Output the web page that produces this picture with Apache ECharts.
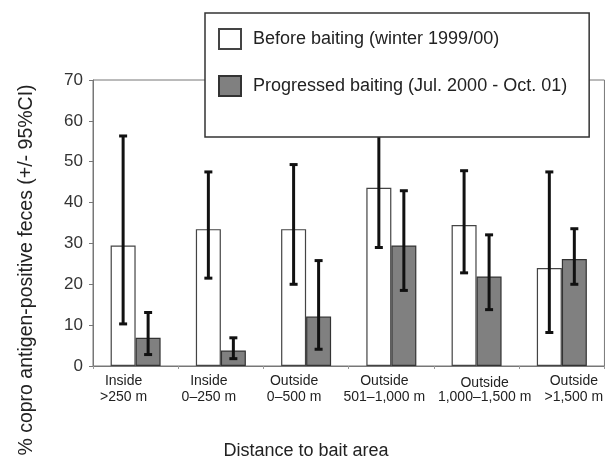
<!DOCTYPE html>
<html>
<head>
<meta charset="utf-8">
<script src="https://cdn.jsdelivr.net/npm/echarts@6/dist/echarts.min.js"></script>
<style>
  html, body { margin: 0; padding: 0; background: #fff; }
  #chart { width: 606px; height: 458px; }
</style>
</head>
<body>
<div id="chart"></div>
<script>
var categories = ['Inside\n>250 m', 'Inside\n0\u2013250 m', 'Outside\n0\u2013500 m',
                  'Outside\n501\u20131,000 m', 'Outside\n1,000\u20131,500 m', 'Outside\n>1,500 m'];
var beforeVals = [29.5, 33.5, 33.5, 43.6, 34.5, 24.0];
var beforeLow  = [10.3, 21.5, 20.0, 29.0, 22.8, 8.2];
var beforeHigh = [56.3, 47.5, 49.3, 60.0, 47.8, 47.5];
var afterVals  = [6.9, 3.8, 12.1, 29.5, 21.9, 26.2];
var afterLow   = [2.8, 1.8, 4.1, 18.5, 13.8, 20.0];
var afterHigh  = [13.1, 6.9, 25.8, 42.9, 32.1, 33.6];
var yTicks = [0, 10, 20, 30, 40, 50, 60, 70];
// label styles in the original are a bit off-centre
var labelStyle = ['l12', 'l12', 'l12', 'l7', 'r8', 'r12'];

var font = 'Liberation Sans, Arial, sans-serif';
var barW = 25;

function errData(low, high) {
  var out = [];
  for (var i = 0; i < low.length; i++) {
    out.push([i, low[i], high[i]]);
  }
  return out;
}

function errRender(offset) {
  return function (params, api) {
    var x = api.coord([api.value(0), 0])[0] + offset;
    var yLo = api.coord([api.value(0), api.value(1)])[1];
    var yHi = api.coord([api.value(0), api.value(2)])[1];
    var st = { stroke: '#111', lineWidth: 3 };
    var cap = 4;
    return {
      type: 'group',
      children: [
        { type: 'line', shape: { x1: x, y1: yHi, x2: x, y2: yLo }, style: st },
        { type: 'line', shape: { x1: x - cap, y1: yHi, x2: x + cap, y2: yHi }, style: st },
        { type: 'line', shape: { x1: x - cap, y1: yLo, x2: x + cap, y2: yLo }, style: st }
      ]
    };
  };
}

var chart = echarts.init(document.getElementById('chart'));
var option = {
  animation: false,
  backgroundColor: '#fff',
  textStyle: { fontFamily: font },
  grid: {
    show: true, left: 93, top: 80, width: 514, height: 286,
    borderColor: '#777', borderWidth: 1, backgroundColor: 'transparent'
  },
  legend: {
    left: 205, top: 13,
    orient: 'vertical',
    data: ['Before baiting (winter 1999/00)', 'Progressed baiting (Jul. 2000 - Oct. 01)'],
    icon: 'rect',
    itemWidth: 22, itemHeight: 20, itemGap: 25,
    padding: [15, 22, 40, 13],
    backgroundColor: '#fff',
    borderColor: '#333', borderWidth: 1.5, borderRadius: 0,
    textStyle: { fontFamily: font, fontSize: 18, color: '#222', padding: [0, 0, 0, 7] }
  },
  xAxis: {
    type: 'category',
    data: categories,
    axisLine: { lineStyle: { color: '#777', width: 1 } },
    axisTick: { show: true, length: 3, lineStyle: { color: '#999' } },
    axisLabel: {
      fontFamily: font, fontSize: 14, color: '#222', lineHeight: 16, margin: 7, interval: 0,
      formatter: function (v, i) {
        var s = labelStyle[i];
        var parts = v.split('\n');
        var top = s === 'r8' ? s + 't' : s;
        return '{' + top + '|' + parts[0] + '}\n{' + s + '|' + parts[1] + '}';
      },
      rich: {
        l12: { fontSize: 14, lineHeight: 16, padding: [0, 24, 0, 0] },
        l7: { fontSize: 14, lineHeight: 16, padding: [0, 14, 0, 0] },
        r8: { fontSize: 14, lineHeight: 16, padding: [0, 0, 0, 16] },
        r8t: { fontSize: 14, lineHeight: 16, padding: [4, 0, 0, 16] },
        r12: { fontSize: 14, lineHeight: 16, padding: [0, 0, 0, 24] }
      }
    }
  },
  yAxis: {
    type: 'value',
    min: 0, max: 70, interval: 10,
    splitLine: { show: false },
    axisLine: { show: true, lineStyle: { color: '#777', width: 1 } },
    axisTick: { show: true, length: 4, lineStyle: { color: '#777' } },
    axisLabel: {
      fontFamily: font, fontSize: 17, color: '#333', margin: 10,
      formatter: function (v) { return yTicks.indexOf(v) >= 0 ? String(v) : ''; }
    }
  },
  graphic: [
    {
      type: 'text', x: 27, y: 270, rotation: Math.PI / 2,
      style: {
        text: '% copro antigen-positive feces (+/- 95%CI)',
        font: '19.5px ' + font, fill: '#222', textAlign: 'center', textVerticalAlign: 'middle'
      }
    },
    {
      type: 'text', x: 306, y: 451,
      style: {
        text: 'Distance to bait area',
        font: '18px ' + font, fill: '#222', textAlign: 'center', textVerticalAlign: 'middle'
      }
    }
  ],
  series: [
    {
      name: 'Before baiting (winter 1999/00)',
      type: 'bar',
      data: beforeVals,
      barWidth: barW,
      barGap: '0%',
      itemStyle: { color: '#fff', borderColor: '#444', borderWidth: 1.2 }
    },
    {
      name: 'Progressed baiting (Jul. 2000 - Oct. 01)',
      type: 'bar',
      data: afterVals,
      barWidth: barW,
      barGap: '0%',
      itemStyle: { color: '#808080', borderColor: '#333', borderWidth: 1.2 }
    },
    {
      name: 'errBefore',
      type: 'custom',
      renderItem: errRender(-barW / 2),
      encode: { x: 0, y: [1, 2] },
      data: errData(beforeLow, beforeHigh),
      z: 3
    },
    {
      name: 'errAfter',
      type: 'custom',
      renderItem: errRender(barW / 2),
      encode: { x: 0, y: [1, 2] },
      data: errData(afterLow, afterHigh),
      z: 3
    }
  ]
};
chart.setOption(option);
</script>
</body>
</html>
